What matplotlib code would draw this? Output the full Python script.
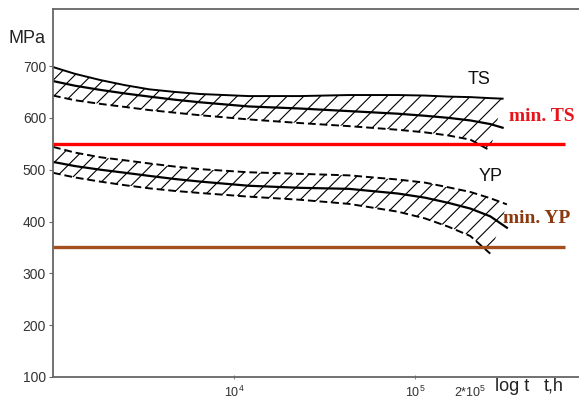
import numpy as np
import matplotlib
matplotlib.use('Agg')
import matplotlib.pyplot as plt

plt.rcParams['font.family'] = ['Liberation Sans', 'DejaVu Sans']
plt.rcParams['mathtext.fontset'] = 'custom'
plt.rcParams['mathtext.rm'] = 'Liberation Sans'
plt.rcParams['hatch.linewidth'] = 0.8

# time points (hours) and stresses (MPa)
t_pts = [1000, 1320, 1820, 2500, 3400, 4700, 6500, 12000, 23000, 43000,
         80000, 113000, 152000, 201000, 259000]

ts_up = [698, 685, 673, 663, 655, 650, 646, 642, 642, 644, 644, 643, 641, 640, 638]
ts_mid = [671, 662, 654, 647, 641, 635, 630, 622, 618, 613, 608, 604, 600, 595, 588]
ts_lo = [643, 634, 627, 621, 615, 610, 605, 597, 590, 584, 577, 572, 566, 558, 537]
ts_up_end = (303000, 637)
ts_mid_end = (303000, 581)

yp_up = [544, 533, 524, 518, 512, 506, 501, 495, 492, 489, 481, 475, 466, 457, 445]
yp_mid = [515, 507, 500, 494, 488, 482, 477, 469, 465, 463, 454, 446, 436, 425, 410]
yp_lo = [494, 485, 477, 470, 464, 459, 455, 448, 442, 434, 419, 406, 390, 372, 338]
yp_up_end = (320000, 433)
yp_mid_end = (320000, 388)

min_ts = 550
min_yp = 350
min_span = [1000, 670000]

yticks = [100, 200, 300, 400, 500, 600, 700]
xticks = [1e4, 1e5, 2e5]
xticklabels = [r'$\mathregular{10^4}$', r'$\mathregular{10^5}$', r'$\mathregular{2{*}10^5}$']

fig = plt.figure(figsize=(5.79, 4.01), dpi=100)
ax = fig.add_axes([53/579, 1 - 377/401, 1 - 53/579, 368/401])

t_up = t_pts + [ts_up_end[0]]
t_mid = t_pts + [ts_mid_end[0]]
ts_up_all = ts_up + [ts_up_end[1]]
ts_mid_all = ts_mid + [ts_mid_end[1]]
yp_up_all = yp_up + [yp_up_end[1]]
yp_mid_all = yp_mid + [yp_mid_end[1]]
t_yup = t_pts + [yp_up_end[0]]
t_ymid = t_pts + [yp_mid_end[0]]


def band(tu, up, tl, lo):
    xs = np.concatenate([tu, tl[::-1]])
    ys = np.concatenate([up, lo[::-1]])
    ax.fill(xs, ys, facecolor='none', edgecolor='k', hatch='//', linewidth=0)


band(t_up, ts_up_all, t_pts, ts_lo)
band(t_yup, yp_up_all, t_pts, yp_lo)

dash = (0, (4, 2))
ax.plot(t_up, ts_up_all, color='k', lw=1.4)
ax.plot(t_mid, ts_mid_all, color='k', lw=1.6)
ax.plot(t_pts, ts_lo, color='k', lw=1.4, ls=dash)
ax.plot(t_yup, yp_up_all, color='k', lw=1.4, ls=dash)
ax.plot(t_ymid, yp_mid_all, color='k', lw=1.6)
ax.plot(t_pts, yp_lo, color='k', lw=1.4, ls=dash)

ax.hlines(min_ts, min_span[0], min_span[1], color='#ff0000', lw=2.4)
ax.hlines(min_yp, min_span[0], min_span[1], color='#a4501e', lw=2.4)

ax.set_xscale('log')
ax.set_xlim(1000, 8.0e5)
ax.set_ylim(100, 810)
ax.set_xticks(xticks)
ax.set_xticklabels(xticklabels, fontsize=9, color='#333333')
ax.minorticks_off()
ax.set_yticks(yticks)
ax.tick_params(axis='y', labelsize=10, labelcolor='#333333', length=3, color='#666666', pad=2)
ax.tick_params(axis='x', length=3, color='#888888', pad=4, direction='inout')
ax.get_xticklines()[4].set_visible(False)
ax.get_xticklines()[5].set_visible(False)

for s in ['left', 'top', 'bottom']:
    ax.spines[s].set_color('#666666')
    ax.spines[s].set_linewidth(1.3)
ax.spines['right'].set_visible(False)

ax.text(2.26e5, 665, 'TS', fontsize=13, ha='center', va='baseline', color='#111111')
ax.text(2.6e5, 479, 'YP', fontsize=13, ha='center', va='baseline', color='#111111')
ax.text(3.27e5, 594, 'min. TS', fontsize=14, fontweight='bold', family='Liberation Serif',
        color='#e8141c', ha='left', va='baseline', clip_on=False)
ax.text(3.05e5, 398, 'min. YP', fontsize=14, fontweight='bold', family='Liberation Serif',
        color='#8b3a0f', ha='left', va='baseline', clip_on=False)

tr = ax.get_xaxis_transform()
ax.text(3.43e5, -0.038, 'log t', fontsize=13, ha='center', va='baseline', transform=tr, color='#222222')
ax.text(5.78e5, -0.038, 't,h', fontsize=13, ha='center', va='baseline', transform=tr, color='#222222')
fig.text(8/579, 1 - 43/401, 'MPa', fontsize=13, ha='left', va='baseline', color='#222222')

fig.savefig('out.png', dpi=100)
